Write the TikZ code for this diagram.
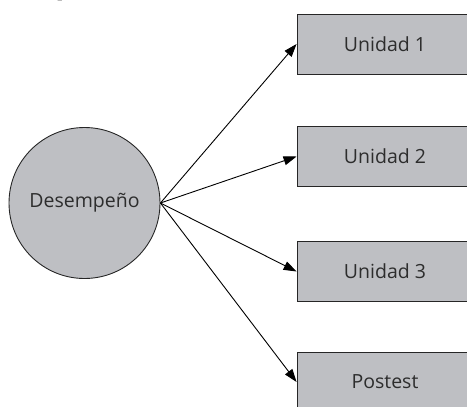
\documentclass[tikz,border=0pt]{standalone}
\usepackage{fontspec}
\setmainfont{Open Sans}
\newfontfamily\captionserif{Liberation Serif}
\usetikzlibrary{arrows.meta}
\definecolor{boxfill}{RGB}{190,191,195}
\definecolor{labeltext}{RGB}{45,45,45}
\begin{document}
\begin{tikzpicture}[x=1pt,y=-1pt,
  unitbox/.style={draw=black!85,line width=0.9pt,fill=boxfill,minimum width=176pt,minimum height=60pt,
    inner sep=0pt,text=labeltext,font=\fontsize{19.5}{23}\selectfont},
  hub/.style={circle,draw=black!85,line width=0.9pt,fill=boxfill,minimum size=151pt,inner sep=0pt,
    text=labeltext,font=\fontsize{19.5}{23}\selectfont},
  link/.style={line width=0.9pt,-{Triangle[length=13pt,width=9pt]}}]
\useasboundingbox (0,0) rectangle (467,407);
% caption line above, mostly outside the page
\node[anchor=base,inner sep=0pt,font=\fontsize{20}{24}\selectfont\captionserif\itshape] (cap) at (64,-3.5) {p};
% central node
\node[hub] (d) at (84.5,203) {Desempeño};
% target boxes
\node[unitbox] (u1) at (385,44) {Unidad 1};
\node[unitbox] (u2) at (385,156.5) {Unidad 2};
\node[unitbox] (u3) at (385,271.5) {Unidad 3};
\node[unitbox] (u4) at (385,382) {Postest};
% connectors
\foreach \t in {u1,u2,u3,u4}
  \draw[link] (d.east) -- (\t.west);
\end{tikzpicture}
\end{document}
